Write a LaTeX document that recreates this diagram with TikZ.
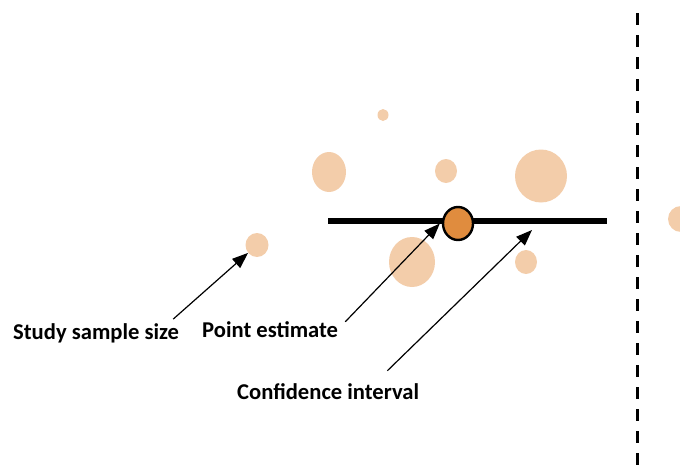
\documentclass[tikz,border=0pt]{standalone}
\usepackage{fontspec}
\setmainfont{Carlito}
\usepackage{tikz}
\usetikzlibrary{arrows.meta,positioning,shapes.geometric,calc}
\definecolor{peach}{RGB}{243,205,170}
\definecolor{estorange}{RGB}{224,140,62}

\begin{document}
\begin{tikzpicture}[
  x=1pt,y=-1pt,
  bubble/.style={ellipse,fill=peach,inner sep=0pt},
  label/.style={inner sep=0pt,font=\fontsize{22.6}{26}\selectfont\bfseries},
  arrow/.style={-{Triangle[length=16pt,width=12pt]},line width=1.2pt},
  ci/.style={line width=6pt}
]
\useasboundingbox (0,0) rectangle (680,474);
% studies
\node[bubble,minimum width=11pt,minimum height=12pt] (s1) at (383,115) {};
\node[bubble,minimum width=34pt,minimum height=40pt] (s2) at (329,172) {};
\node[bubble,minimum width=22pt,minimum height=24pt] (s3) at (446,171) {};
\node[bubble,minimum width=52pt,minimum height=53pt] (s4) at (541,176) {};
\node[bubble,minimum width=46pt,minimum height=50pt] (s5) at (412,262) {};
\node[bubble,minimum width=22pt,minimum height=24pt] (s6) at (526,262) {};
\node[bubble,minimum width=23pt,minimum height=24pt] (sample) at (257,245) {};
\node[bubble,minimum width=26pt,minimum height=26pt] (s7) at (681,219) {};
% confidence interval and point estimate
\coordinate (cilo) at (328,221);
\coordinate (cihi) at (607,221);
\draw[ci] (cilo) -- (cihi);
\node[ellipse,draw,line width=2.4pt,fill=estorange,inner sep=0pt,
  minimum width=30pt,minimum height=33pt] (est) at (458,223.5) {};
\coordinate (citip) at (532,230);
% separator
\coordinate (septop) at (637,13);
\coordinate (sepbot) at (637,474);
\draw[line width=3pt,dash pattern=on 12pt off 10pt] (septop) -- (sepbot);
% labels
\node[label,anchor=west] (samplelbl) at (13,333) {Study sample size};
\node[label,anchor=west] (estlbl) at (202,330) {Point estimate};
\node[label,anchor=west] (cilbl) at (237,392) {Confidence interval};
\draw[arrow] ([xshift=-6pt,yshift=4pt]samplelbl.north east) -- (sample);
\draw[arrow] ([xshift=7pt]estlbl.north east) -- ([xshift=-2pt]est.west);
\draw[arrow] ([xshift=-32pt,yshift=13pt]cilbl.north east) -- (citip);
\end{tikzpicture}
\end{document}
